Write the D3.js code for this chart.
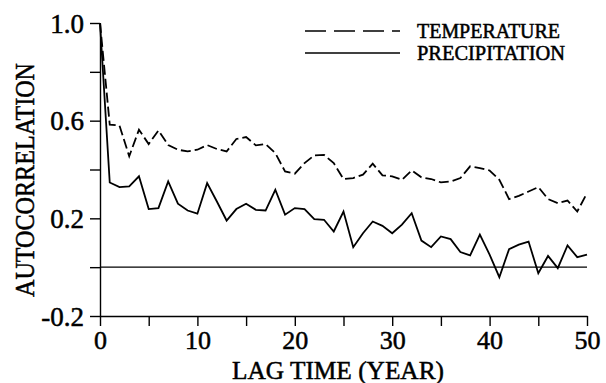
<!DOCTYPE html>
<html>
<head>
<meta charset="utf-8">
<script src="https://cdn.jsdelivr.net/npm/d3@7"></script>
<style>
  html, body { margin: 0; padding: 0; background: #fff; }
  svg { display: block; }
  text { font-family: "Liberation Serif", "DejaVu Serif", serif; fill: #000; stroke: #000; stroke-width: 0.5px; }
</style>
</head>
<body>
<svg id="chart" width="606" height="383"></svg>
<script>
// ---- data ----
const lags = d3.range(0, 51);
const temperature = [1.0, 0.584, 0.58, 0.454, 0.563, 0.504, 0.56, 0.50, 0.481, 0.474,
  0.481, 0.50, 0.484, 0.474, 0.525, 0.533, 0.499, 0.504, 0.467, 0.392,
  0.383, 0.426, 0.458, 0.46, 0.426, 0.361, 0.365, 0.379, 0.424, 0.376,
  0.372, 0.358, 0.396, 0.368, 0.361, 0.347, 0.351, 0.365, 0.413, 0.406,
  0.396, 0.358, 0.279, 0.292, 0.31, 0.328, 0.279, 0.262, 0.273, 0.228, 0.303];
const precipitation = [1.0, 0.347, 0.328, 0.331, 0.372, 0.238, 0.242, 0.351, 0.26, 0.232,
  0.219, 0.344, 0.269, 0.191, 0.238, 0.26, 0.235, 0.232, 0.317, 0.215,
  0.242, 0.238, 0.197, 0.194, 0.146, 0.228, 0.082, 0.139, 0.187, 0.169,
  0.139, 0.174, 0.221, 0.109, 0.082, 0.126, 0.115, 0.062, 0.048, 0.133,
  0.051, -0.041, 0.074, 0.092, 0.105, -0.025, 0.046, -0.004, 0.089, 0.041, 0.051];
const xTickValues = [0, 5, 10, 15, 20, 25, 30, 35, 40, 45, 50];
const xTickLabels = ["0", "", "10", "", "20", "", "30", "", "40", "", "50"];
const yTickValues = [-0.2, 0.0, 0.2, 0.4, 0.6, 0.8, 1.0];
const yTickLabels = ["-0.2", "", "0.2", "", "0.6", "", "1.0"];
const seriesNames = ["TEMPERATURE", "PRECIPITATION"];

// ---- layout ----
const svg = d3.select("#chart");
const x = d3.scaleLinear().domain([0, 50]).range([100, 587]);
const y = d3.scaleLinear().domain([-0.2, 1.0]).range([316, 23]);

// x axis
const xAxis = d3.axisBottom(x).tickValues(xTickValues)
  .tickFormat((d, i) => xTickLabels[i]).tickSizeInner(10).tickSizeOuter(0).tickPadding(6);
const gx = svg.append("g").attr("transform", `translate(0,${y(-0.2)})`).call(xAxis);
gx.select(".domain").attr("stroke", "#000").attr("stroke-width", 1.4);
gx.selectAll(".tick line").attr("stroke", "#000").attr("stroke-width", 1.4);
gx.selectAll(".tick text").attr("font-size", 26).attr("font-family", "Liberation Serif")
  .attr("dy", null).attr("y", 33);

// y axis
const yAxis = d3.axisLeft(y).tickValues(yTickValues)
  .tickFormat((d, i) => yTickLabels[i]).tickSizeInner(10).tickSizeOuter(0).tickPadding(6);
const gy = svg.append("g").attr("transform", `translate(${x(0)},0)`).call(yAxis);
gy.select(".domain").attr("stroke", "#000").attr("stroke-width", 1.4);
gy.selectAll(".tick line").attr("stroke", "#000").attr("stroke-width", 1.4);
gy.selectAll(".tick text").attr("font-size", 27).attr("font-family", "Liberation Serif")
  .attr("x", -16).attr("dy", "0.34em");

// zero line
svg.append("line")
  .attr("x1", x(0)).attr("x2", x(50)).attr("y1", y(0)).attr("y2", y(0))
  .attr("stroke", "#000").attr("stroke-width", 1.2);

// lines
const line = d3.line().x((d, i) => x(lags[i])).y(d => y(d));
svg.append("path").datum(temperature).attr("d", line)
  .attr("fill", "none").attr("stroke", "#000").attr("stroke-width", 1.8)
  .attr("stroke-dasharray", "10,4");
svg.append("path").datum(precipitation).attr("d", line)
  .attr("fill", "none").attr("stroke", "#000").attr("stroke-width", 1.8);

// axis titles
svg.append("text").attr("x", 338).attr("y", 379).attr("text-anchor", "middle")
  .attr("font-size", 25).attr("textLength", 212).attr("lengthAdjust", "spacingAndGlyphs")
  .text("LAG TIME (YEAR)");
svg.append("text").attr("transform", "translate(34,180) rotate(-90)")
  .attr("text-anchor", "middle")
  .attr("font-size", 28).attr("textLength", 234).attr("lengthAdjust", "spacingAndGlyphs")
  .text("AUTOCORRELATION");

// legend
const legend = svg.append("g");
const legY = [31, 53];
legend.append("line").attr("x1", 305).attr("x2", 400).attr("y1", legY[0]).attr("y2", legY[0])
  .attr("stroke", "#000").attr("stroke-width", 1.5).attr("stroke-dasharray", "21,8");
legend.append("line").attr("x1", 305).attr("x2", 400).attr("y1", legY[1]).attr("y2", legY[1])
  .attr("stroke", "#000").attr("stroke-width", 1.5);
seriesNames.forEach((n, i) => {
  legend.append("text").attr("x", 417).attr("y", legY[i] + 7)
    .attr("font-size", 20).attr("textLength", i === 0 ? 143 : 148)
    .attr("lengthAdjust", "spacingAndGlyphs").text(n);
});
</script>
</body>
</html>
